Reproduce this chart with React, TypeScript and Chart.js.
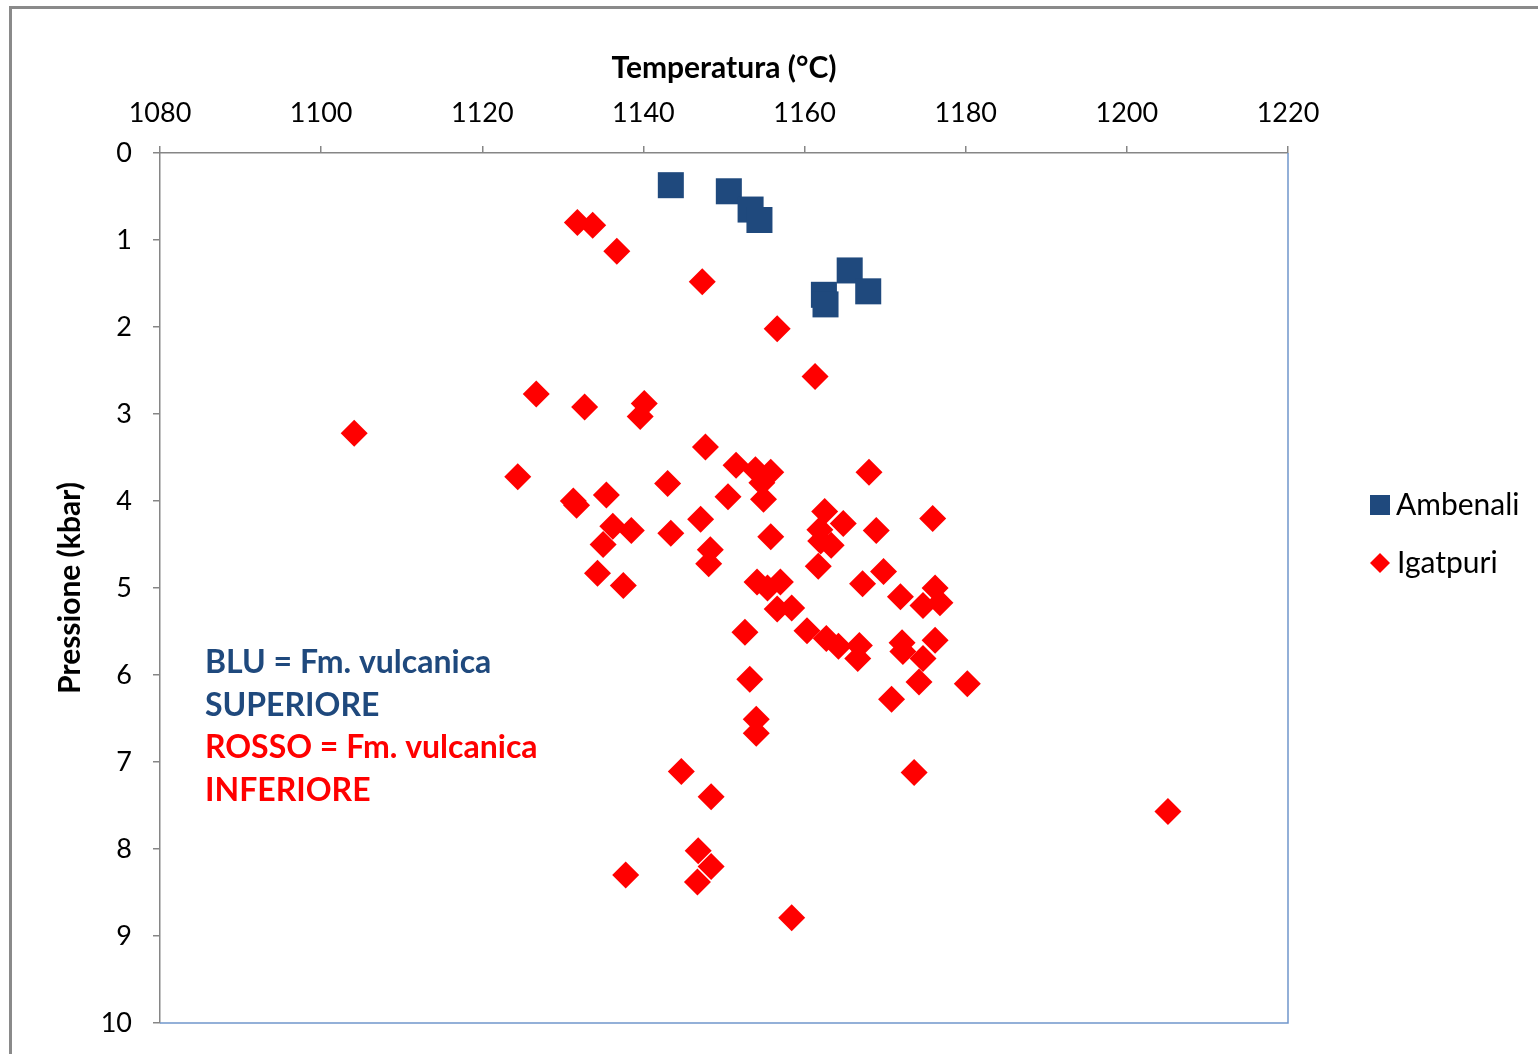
import React, { useEffect, useRef } from 'react';
import { Chart, registerables } from 'chart.js';

Chart.register(...registerables);

// ---- Data ----
const seriesNames = ['Ambenali', 'Igatpuri'];
const xTitle = 'Temperatura (°C)';
const yTitle = 'Pressione (kbar)';
const xMin = 1080;
const xMax = 1220;
const xStep = 20;
const yMin = 0;
const yMax = 10;
const yStep = 1;

const ambenaliT = [1143.4, 1150.6, 1153.3, 1154.4, 1165.6, 1167.9, 1162.4, 1162.6];
const ambenaliP = [0.37, 0.44, 0.65, 0.77, 1.35, 1.59, 1.63, 1.74];

const igatpuriT = [
  1131.8, 1133.7, 1136.7, 1147.3, 1156.6, 1161.3, 1126.7, 1132.7, 1140.1, 1139.6,
  1104.1, 1147.7, 1124.4, 1151.5, 1153.9, 1155.8, 1154.7, 1154.9, 1168.0, 1143.0,
  1131.3, 1131.7, 1135.4, 1150.5, 1162.5, 1164.8, 1168.9, 1175.9, 1136.2, 1138.5,
  1135.0, 1143.4, 1147.1, 1148.3, 1148.1, 1155.8, 1161.9, 1162.0, 1163.3, 1161.7,
  1134.3, 1137.5, 1154.1, 1155.4, 1157.0, 1156.6, 1158.4, 1167.2, 1169.8, 1171.9,
  1176.2, 1174.7, 1176.8, 1152.6, 1160.3, 1162.7, 1164.2, 1166.8, 1166.6, 1172.1,
  1172.2, 1176.2, 1174.7, 1153.2, 1174.2, 1180.2, 1170.8, 1154.0, 1154.0, 1173.6,
  1144.7, 1148.4, 1146.8, 1148.4, 1146.7, 1137.8, 1158.4, 1205.1,
];
const igatpuriP = [
  0.80, 0.83, 1.13, 1.48, 2.02, 2.57, 2.77, 2.92, 2.88, 3.03,
  3.22, 3.38, 3.72, 3.59, 3.64, 3.67, 3.79, 3.98, 3.67, 3.80,
  4.00, 4.05, 3.93, 3.95, 4.12, 4.26, 4.34, 4.20, 4.29, 4.34,
  4.50, 4.37, 4.21, 4.56, 4.72, 4.41, 4.33, 4.46, 4.51, 4.75,
  4.83, 4.97, 4.93, 5.00, 4.93, 5.24, 5.23, 4.95, 4.81, 5.10,
  5.00, 5.20, 5.17, 5.51, 5.49, 5.58, 5.67, 5.66, 5.81, 5.63,
  5.73, 5.60, 5.81, 6.05, 6.08, 6.10, 6.28, 6.51, 6.67, 7.12,
  7.11, 7.40, 8.02, 8.20, 8.38, 8.30, 8.79, 7.57,
];

const noteLines = ['BLU = Fm. vulcanica', 'SUPERIORE', 'ROSSO = Fm. vulcanica', 'INFERIORE'];
const noteColors = ['#1F497D', '#1F497D', '#FF0000', '#FF0000'];

const BLUE = '#1F497D';
const RED = '#FF0000';
const AXIS_GRAY = '#868686';
const FONT = 'Lato, "Open Sans", sans-serif';

const toPoints = (xs: number[], ys: number[]) => xs.map((x, i) => ({ x, y: ys[i] }));

const decorPlugin = {
  id: 'decor',
  beforeDraw(chart: any) {
    const { ctx, width, height } = chart;
    ctx.save();
    ctx.fillStyle = '#ffffff';
    ctx.fillRect(0, 0, width, height);
    ctx.strokeStyle = '#8a8a8a';
    ctx.lineWidth = 3;
    ctx.strokeRect(10.5, 7.5, width + 20, height + 20);
    ctx.restore();
  },
  beforeDatasetsDraw(chart: any) {
    const { ctx, chartArea: a } = chart;
    ctx.save();
    ctx.strokeStyle = '#7096CC';
    ctx.lineWidth = 1.5;
    ctx.beginPath();
    ctx.moveTo(a.left, a.bottom);
    ctx.lineTo(a.right, a.bottom);
    ctx.lineTo(a.right, a.top);
    ctx.stroke();
    ctx.restore();
  },
  afterDraw(chart: any) {
    const { ctx, chartArea: a } = chart;
    ctx.save();
    // annotation text
    ctx.font = `bold 32px ${FONT}`;
    ctx.textBaseline = 'middle';
    ctx.textAlign = 'left';
    noteLines.forEach((t, i) => {
      ctx.fillStyle = noteColors[i];
      ctx.fillText(t, a.left + 45, a.top + 510 + i * 42.5);
    });
    // legend
    const lx = a.right + 92;
    const ly0 = a.top + 352;
    const gap = 58;
    ctx.font = `30px ${FONT}`;
    ctx.fillStyle = BLUE;
    ctx.fillRect(lx - 10, ly0 - 10, 20, 20);
    ctx.fillStyle = RED;
    ctx.beginPath();
    ctx.moveTo(lx - 10, ly0 + gap);
    ctx.lineTo(lx, ly0 + gap - 10);
    ctx.lineTo(lx + 10, ly0 + gap);
    ctx.lineTo(lx, ly0 + gap + 10);
    ctx.closePath();
    ctx.fill();
    ctx.fillStyle = '#000000';
    ctx.fillText(seriesNames[0], lx + 16, ly0);
    ctx.fillText(seriesNames[1], lx + 17, ly0 + gap);
    ctx.restore();
  },
};

export default function App() {
  const ref = useRef<HTMLCanvasElement | null>(null);
  useEffect(() => {
    if (!ref.current) return;
    const chart = new Chart(ref.current, {
      type: 'scatter',
      data: {
        datasets: [
          {
            label: seriesNames[0],
            data: toPoints(ambenaliT, ambenaliP),
            pointStyle: 'rect',
            pointRadius: 18.4,
            pointHoverRadius: 18.4,
            backgroundColor: BLUE,
            borderWidth: 0,
          },
          {
            label: seriesNames[1],
            data: toPoints(igatpuriT, igatpuriP),
            pointStyle: 'rectRot',
            pointRadius: 13.5,
            pointHoverRadius: 13.5,
            backgroundColor: RED,
            borderWidth: 0,
          },
        ],
      },
      options: {
        responsive: false,
        animation: false,
        devicePixelRatio: 1,
        layout: { padding: { left: 0, top: 0, right: 250, bottom: 31 } },
        plugins: {
          legend: { display: false },
          tooltip: { enabled: false },
          title: { display: false },
        },
        scales: {
          x: {
            type: 'linear',
            position: 'top',
            min: xMin,
            max: xMax,
            afterFit: (s: any) => {
              s.height = 153;
              s.paddingLeft = 0;
              s.paddingRight = 0;
            },
            ticks: {
              stepSize: xStep,
              color: '#000000',
              padding: 17,
              font: { family: FONT, size: 27 },
              maxRotation: 0,
              callback: (v: any) => String(v),
            },
            grid: {
              display: true,
              drawOnChartArea: false,
              drawTicks: true,
              tickLength: 7,
              color: AXIS_GRAY,
              lineWidth: 1.5,
            },
            border: { display: true, color: AXIS_GRAY, width: 1.5 },
            title: {
              display: true,
              text: xTitle,
              color: '#000000',
              font: { family: FONT, size: 30, weight: 'bold' },
              padding: { top: 50, bottom: 0 },
            },
          },
          y: {
            type: 'linear',
            position: 'left',
            reverse: true,
            min: yMin,
            max: yMax,
            afterFit: (s: any) => {
              s.width = 160;
              s.paddingTop = 0;
              s.paddingBottom = 0;
            },
            ticks: {
              stepSize: yStep,
              color: '#000000',
              padding: 21,
              font: { family: FONT, size: 27 },
              callback: (v: any) => String(v),
            },
            grid: {
              display: true,
              drawOnChartArea: false,
              drawTicks: true,
              tickLength: 7,
              color: AXIS_GRAY,
              lineWidth: 1.5,
            },
            border: { display: true, color: AXIS_GRAY, width: 1.5 },
            title: {
              display: true,
              text: yTitle,
              color: '#000000',
              font: { family: FONT, size: 30, weight: 'bold' },
              padding: { top: 52, bottom: 0 },
            },
          },
        },
      },
      plugins: [decorPlugin],
    } as any);
    return () => chart.destroy();
  }, []);
  return (
    <div style={{ position: 'absolute', left: 0, top: 0, width: 1538, height: 1054, overflow: 'hidden' }}>
      <canvas ref={ref} width={1538} height={1054} style={{ display: 'block' }} />
    </div>
  );
}
